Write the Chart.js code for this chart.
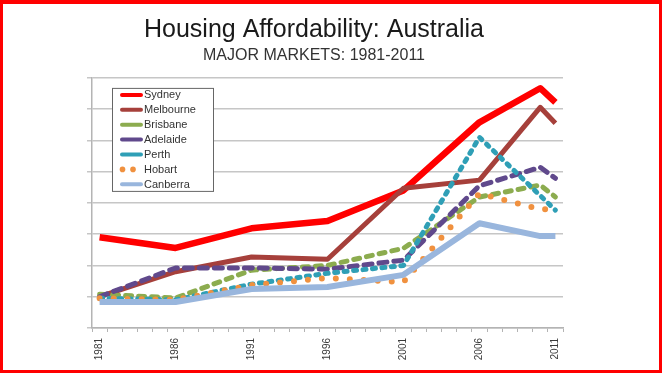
<!DOCTYPE html>
<html>
<head>
<meta charset="utf-8">
<script src="https://cdn.jsdelivr.net/npm/chart.js@4.4.1/dist/chart.umd.min.js"></script>
<style>
    html, body { margin: 0; padding: 0; background: #fff; }
    #wrap { position: relative; width: 662px; height: 373px; }
    #frame {
        position: absolute; left: 0; top: 0; right: 0; bottom: 0;
        border: 3px solid #ff0000; border-top-width: 4px;
        pointer-events: none;
    }
</style>
</head>
<body>
<div id="wrap">
    <canvas id="housing-canvas" width="662" height="373"></canvas>
    <div id="frame"></div>
</div>
<script>
(function() {

    // every year on the axis
    var years = ['1981', '1982', '1983', '1984', '1985', '1986', '1987', '1988', '1989', '1990',
        '1991', '1992', '1993', '1994', '1995', '1996', '1997', '1998', '1999', '2000',
        '2001', '2002', '2003', '2004', '2005', '2006', '2007', '2008', '2009', '2010', '2011'];

    // years that have a value
    var dataYears = ['1981', '1986', '1991', '1996', '2001', '2006', '2010', '2011'];

    var sydney    = [2.90, 2.56, 3.19, 3.42, 4.40, 6.58, 7.67, 7.22];
    var melbourne = [1.00, 1.80, 2.27, 2.20, 4.47, 4.73, 7.06, 6.55];
    var brisbane  = [1.08, 0.96, 1.85, 2.00, 2.55, 4.19, 4.57, 4.19];
    var adelaide  = [1.00, 1.92, 1.92, 1.88, 2.17, 4.55, 5.14, 4.79];
    var perth     = [0.95, 0.90, 1.40, 1.75, 2.00, 6.10, null, 3.77];
    var hobart    = [0.95, 0.90, 1.37, 1.60, 1.47, 4.30, 3.80, 3.80];
    var canberra  = [0.83, 0.83, 1.25, 1.31, 1.70, 3.35, 2.94, 2.94];

    var color = {
        sydney: "#ff0000",
        melbourne: "#a6403b",
        brisbane: "#8cac4f",
        adelaide: "#60498c",
        perth: "#2f9fb6",
        hobart: "#f0913f",
        canberra: "#99b6dd"
    }

    function points(values) {
        return dataYears.map(function(y, i) {
            return { x: y, y: values[i] };
        });
    }

    function series(label, values, col, width, dash, order) {
        return {
            label: label,
            data: points(values),
            borderColor: col,
            backgroundColor: col,
            borderWidth: width,
            borderDash: dash,
            borderCapStyle: dash.length ? 'round' : 'butt',
            borderJoinStyle: 'round',
            pointRadius: 0,
            tension: 0,
            spanGaps: true,
            order: order
        };
    }

    /**
     * Legend box drawn inside the plot, top left
     */
    var innerLegend = {
        id: 'innerLegend',
        afterDatasetsDraw: function(chart) {
            var ctx = chart.ctx;
            var area = chart.chartArea;
            var x0 = area.left + 20, y0 = area.top + 10;
            var w = 101, h = 103;
            ctx.save();
            ctx.fillStyle = '#fff';
            ctx.fillRect(x0, y0, w, h);
            ctx.strokeStyle = '#666';
            ctx.lineWidth = 1;
            ctx.strokeRect(x0 + 0.5, y0 + 0.5, w, h);
            ctx.font = '11px "Liberation Sans", Arial, sans-serif';
            ctx.textBaseline = 'middle';
            chart.data.datasets.forEach(function(ds, i) {
                var cy = y0 + 7 + i * 14.9;
                var sx = x0 + 8;
                if (ds.label === 'Hobart') {
                    ctx.fillStyle = ds.borderColor;
                    [sx + 2.5, sx + 13].forEach(function(dx) {
                        ctx.beginPath();
                        ctx.arc(dx, cy, 2.8, 0, Math.PI * 2);
                        ctx.fill();
                    });
                } else {
                    ctx.strokeStyle = ds.borderColor;
                    ctx.lineWidth = 4;
                    ctx.lineCap = 'round';
                    ctx.beginPath();
                    ctx.moveTo(sx + 2, cy);
                    ctx.lineTo(sx + 21, cy);
                    ctx.stroke();
                }
                ctx.fillStyle = '#333';
                ctx.fillText(ds.label, x0 + 32, cy + 0.5);
            });
            ctx.restore();
        }
    };

    const ctx = document.getElementById('housing-canvas').getContext('2d');

    const chart = new Chart(ctx, {
        type: 'line',
        plugins: [innerLegend],
        data: {
            labels: years,
            datasets: [
                series('Sydney', sydney, color.sydney, 6.5, [], 6),
                series('Melbourne', melbourne, color.melbourne, 5, [], 5),
                series('Brisbane', brisbane, color.brisbane, 5, [6, 7], 4),
                series('Adelaide', adelaide, color.adelaide, 5, [8, 7], 3),
                series('Perth', perth, color.perth, 5, [3, 6.5], 2),
                series('Hobart', hobart, color.hobart, 6, [0, 14], 1),
                series('Canberra', canberra, color.canberra, 6, [], 0)
            ]
        },
        options: {
            responsive: false,
            animation: false,
            layout: {
                padding: { left: 65, right: 99, top: 0, bottom: 0 }
            },
            plugins: {
                legend: { display: false },
                tooltip: { enabled: false },
                title: {
                    display: true,
                    text: 'Housing Affordability: Australia',
                    color: '#1a1a1a',
                    font: { family: '"Liberation Sans", Arial, sans-serif', size: 25, weight: 'normal' },
                    padding: { top: 15.5, bottom: 0 }
                },
                subtitle: {
                    display: true,
                    text: 'MAJOR MARKETS: 1981-2011',
                    color: '#333',
                    font: { family: '"Liberation Sans", Arial, sans-serif', size: 16, weight: 'normal' },
                    padding: { top: 0, bottom: 13.2 }
                }
            },
            scales: {
                x: {
                    type: 'category',
                    offset: true,
                    afterFit: function(scale) { scale.height = 45; },
                    border: { color: '#b4b4b4', width: 1.5 },
                    grid: {
                        offset: true,
                        drawOnChartArea: false,
                        drawTicks: true,
                        tickLength: 4,
                        color: '#b4b4b4'
                    },
                    ticks: {
                        autoSkip: false,
                        minRotation: 90,
                        maxRotation: 90,
                        padding: 6,
                        color: '#3a3a3a',
                        font: { family: '"Liberation Sans", Arial, sans-serif', size: 10 },
                        callback: function(v, i) {
                            return i % 5 === 0 ? years[i] : '';
                        }
                    }
                },
                y: {
                    min: 0,
                    max: 8,
                    afterFit: function(scale) { scale.width = 27; },
                    border: { color: '#b4b4b4', width: 1.5 },
                    grid: {
                        color: '#c6c6c6',
                        lineWidth: 1.5,
                        drawTicks: true,
                        tickLength: 5
                    },
                    ticks: {
                        stepSize: 1,
                        display: false
                    }
                }
            }
        }
    });

})()
</script>
</body>
</html>
